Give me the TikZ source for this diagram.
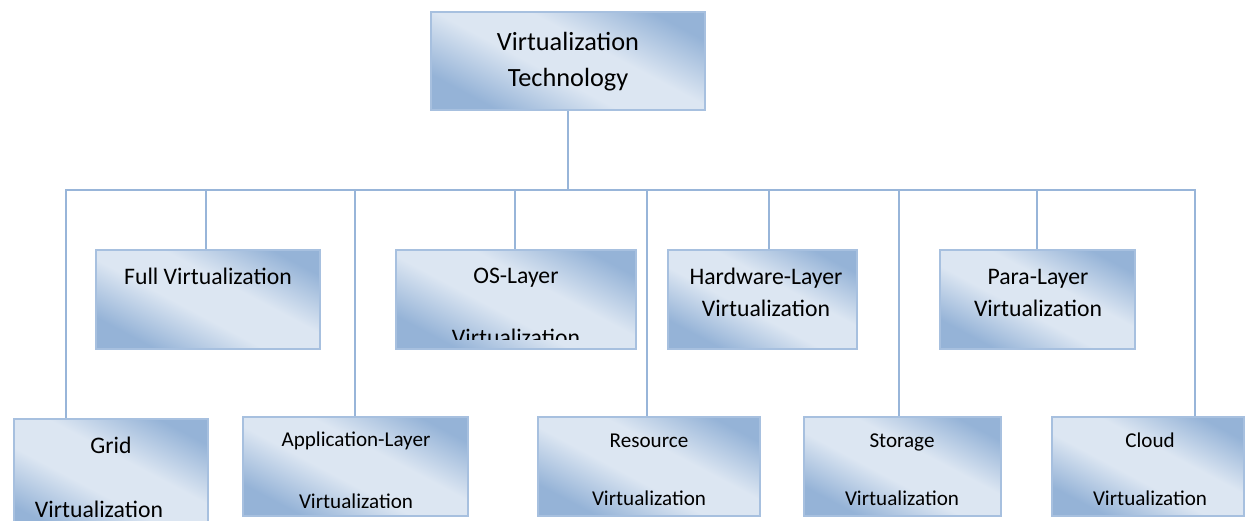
\documentclass[tikz,border=0pt]{standalone}
\usepackage{fontspec}
\setmainfont{Carlito}
\definecolor{linec}{HTML}{98B5D9}
\definecolor{boxdark}{HTML}{95B3D7}
\definecolor{boxlight}{HTML}{DCE6F2}
\definecolor{boxline}{HTML}{A7C0DF}
\pgfdeclareverticalshading{boxshade}{100bp}{color(0bp)=(boxdark); color(26bp)=(boxdark); color(44bp)=(boxlight); color(58bp)=(boxlight); color(76bp)=(boxdark); color(100bp)=(boxdark)}
\begin{document}
\begin{tikzpicture}[x=1pt,y=-1pt,
  conn/.style={draw=linec, line width=2.8pt},
  box/.style={draw=boxline, line width=2.6pt, shading=boxshade, shading angle=-28, inner sep=0pt},
  txtL/.style={font=\fontsize{26.3}{30}\selectfont, anchor=base, inner sep=0pt},
  txtM/.style={font=\fontsize{23.7}{28}\selectfont, anchor=base, inner sep=0pt},
  txtS/.style={font=\fontsize{21.1}{25}\selectfont, anchor=base, inner sep=0pt}]
\useasboundingbox (0,0) rectangle (1247,520);
\clip (0,0) rectangle (1247,520);
\fill[white] (0,0) rectangle (1247,520);

% boxes
\node[box, minimum width=274pt, minimum height=98pt] (top) at (568,61) {};
\node[box, minimum width=224pt, minimum height=99pt] (full) at (208,299.5) {};
\node[box, minimum width=240pt, minimum height=99pt] (os) at (516,299.5) {};
\node[box, minimum width=189pt, minimum height=99pt] (hw) at (762.5,299.5) {};
\node[box, minimum width=195pt, minimum height=99pt] (para) at (1037.5,299.5) {};
\node[box, minimum width=194pt, minimum height=120pt] (grid) at (111,479) {};
\node[box, minimum width=225pt, minimum height=99pt] (app) at (355.5,466.5) {};
\node[box, minimum width=222pt, minimum height=99pt] (res) at (649,466.5) {};
\node[box, minimum width=197pt, minimum height=99pt] (stor) at (902.5,466.5) {};
\node[box, minimum width=192pt, minimum height=99pt] (cloud) at (1148,466.5) {};

% texts
\node[txtL] (top-a) at (568,50) {Virtualization};
\node[txtL] (top-b) at (568,86) {Technology};
\node[txtM] (full-a) at (208,284) {Full Virtualization};
\node[txtM] (os-a) at (516,283) {OS-Layer};
\begin{scope}
  \clip (395,249) rectangle (637,339.5);
  \node[txtM] (os-b) at (516,345) {Virtualization};
\end{scope}
\node[txtM] (hw-a) at (766,284) {Hardware-Layer};
\node[txtM] (hw-b) at (766,316.5) {Virtualization};
\node[txtM] (para-a) at (1038,284) {Para-Layer};
\node[txtM] (para-b) at (1038,316.5) {Virtualization};
\node[txtM] (grid-a) at (111,453) {Grid};
\node[txtM] (grid-b) at (99,517) {Virtualization};
\node[txtS] (app-a) at (356,446.5) {Application-Layer};
\begin{scope}
  \clip (242,416) rectangle (469,507);
  \node[txtS] (app-b) at (356,508.5) {Virtualization};
\end{scope}
\node[txtS] (res-a) at (649,447.5) {Resource};
\node[txtS] (res-b) at (649,505) {Virtualization};
\node[txtS] (stor-a) at (902,447.5) {Storage};
\node[txtS] (stor-b) at (902,505) {Virtualization};
\node[txtS] (cloud-a) at (1150,447.5) {Cloud};
\node[txtS] (cloud-b) at (1150,505) {Virtualization};

% connectors
\coordinate (bl) at (66,190);
\coordinate (br) at (1195,190);
\coordinate (jfull) at (206,190);
\coordinate (japp) at (355,190);
\coordinate (jos) at (515,190);
\coordinate (jres) at (647,190);
\coordinate (jhw) at (769,190);
\coordinate (jstor) at (899,190);
\coordinate (jpara) at (1037,190);
\draw[conn] (top.south) -- (top.south |- bl);
\draw[conn] (bl |- grid.north) -- (bl) -- (br) -- (br |- cloud.north);
\draw[conn] (jfull) -- (jfull |- full.north);
\draw[conn] (japp) -- (japp |- app.north);
\draw[conn] (jos) -- (jos |- os.north);
\draw[conn] (jres) -- (jres |- res.north);
\draw[conn] (jhw) -- (jhw |- hw.north);
\draw[conn] (jstor) -- (jstor |- stor.north);
\draw[conn] (jpara) -- (jpara |- para.north);
\end{tikzpicture}
\end{document}
